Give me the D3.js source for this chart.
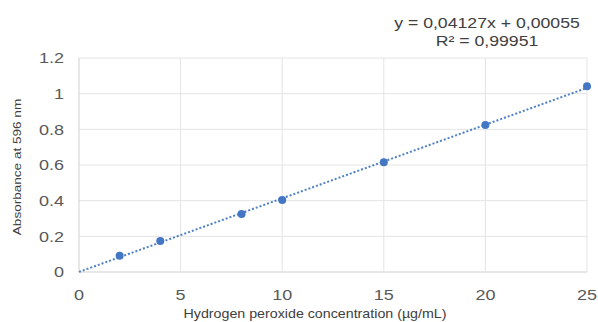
<!DOCTYPE html>
<html><head><meta charset="utf-8">
<script src="https://cdn.jsdelivr.net/npm/d3@7"></script>
<style>body{margin:0;background:#fff;}svg{display:block;font-family:"Liberation Sans",Arial,sans-serif;}</style>
</head><body>
<svg id="c" width="598" height="322"></svg>
<script>
const concentrations = [2, 4, 8, 10, 15, 20, 25];
const absorbances = [0.091, 0.174, 0.325, 0.404, 0.615, 0.824, 1.041];
const xTicks = [0, 5, 10, 15, 20, 25];
const yTicks = [0, 0.2, 0.4, 0.6, 0.8, 1, 1.2];
const slope = 0.04127, intercept = 0.00055;
const eqLines = ["y = 0,04127x + 0,00055", "R² = 0,99951"];

const svg = d3.select("#c");
const m = {l:79, r:587, t:58, b:272};
const x = d3.scaleLinear().domain([0,25]).range([m.l, m.r]);
const y = d3.scaleLinear().domain([0,1.2]).range([m.b, m.t]);
const SX = 1.2;

// gridlines
svg.append("g").selectAll("line").data(yTicks).join("line")
  .attr("x1", m.l).attr("x2", m.r).attr("y1", d=>y(d)).attr("y2", d=>y(d))
  .attr("stroke", d=> d===0 ? "#cfcfcf" : "#e4e4e4").attr("stroke-width",1);
svg.append("g").selectAll("line").data(xTicks).join("line")
  .attr("x1", d=>x(d)).attr("x2", d=>x(d)).attr("y1", m.t).attr("y2", m.b)
  .attr("stroke", d=> d===0 ? "#cfcfcf" : "#e4e4e4").attr("stroke-width",1);

// tick labels
svg.append("g").selectAll("text").data(yTicks).join("text")
  .attr("transform", d=>`translate(64,${y(d)}) scale(${SX},1)`)
  .attr("dy","0.35em").attr("text-anchor","end")
  .attr("fill","#595959").style("font-size","15px").text(d=>String(d));
svg.append("g").selectAll("text").data(xTicks).join("text")
  .attr("transform", d=>`translate(${x(d)},300) scale(${SX},1)`)
  .attr("text-anchor","middle")
  .attr("fill","#595959").style("font-size","15px").text(d=>String(d));

// trendline
svg.append("line")
  .attr("x1", x(0)).attr("y1", y(intercept))
  .attr("x2", x(25)).attr("y2", y(slope*25+intercept))
  .attr("stroke","#4f81c7").attr("stroke-width",2).attr("stroke-dasharray","2,2");

// points
svg.append("g").selectAll("circle").data(concentrations).join("circle")
  .attr("cx", d=>x(d)).attr("cy", (d,i)=>y(absorbances[i])).attr("r",4)
  .attr("fill","#4477c3");

// equation
svg.append("g").selectAll("text").data(eqLines).join("text")
  .attr("transform", (d,i)=>`translate(487,${28+i*18}) scale(1.22,1)`)
  .attr("text-anchor","middle")
  .attr("fill","#404040").style("font-size","14.5px").text(d=>d);

// axis titles
svg.append("text").attr("transform","translate(315,318) scale(1.14,1)").attr("text-anchor","middle")
  .attr("fill","#404040").style("font-size","12.5px")
  .text("Hydrogen peroxide concentration (µg/mL)");
svg.append("text").attr("transform","translate(21,167) rotate(-90) scale(1.18,1)")
  .attr("text-anchor","middle").attr("fill","#404040").style("font-size","11.5px")
  .text("Absorbance at 596 nm");
</script>
</body></html>
